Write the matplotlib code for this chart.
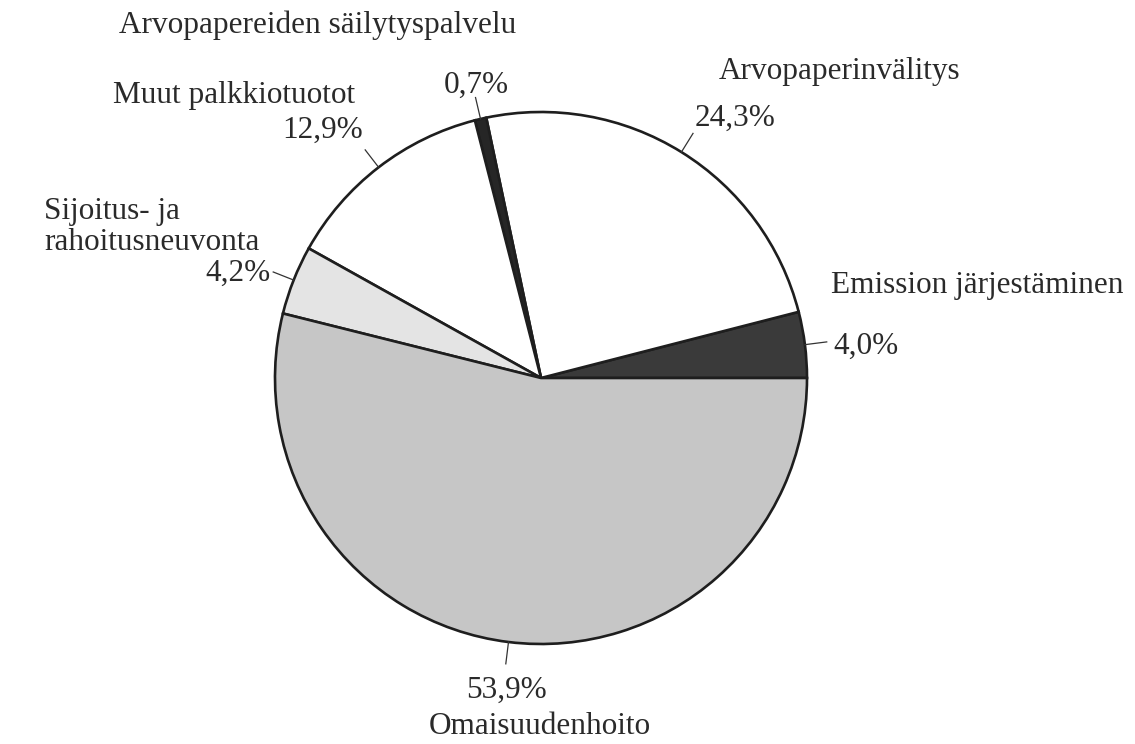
import matplotlib.pyplot as plt
import numpy as np

plt.rcParams['font.family'] = ['Liberation Serif', 'DejaVu Serif']

# Shares of fee income (%), drawn counterclockwise from 3 o'clock
categories = ['Emission järjestäminen', 'Arvopaperinvälitys',
              'Arvopapereiden säilytyspalvelu', 'Muut palkkiotuotot',
              'Sijoitus- ja rahoitusneuvonta', 'Omaisuudenhoito']
shares = [4.0, 24.3, 0.7, 12.9, 4.2, 53.9]
pct_labels = ['4,0%', '24,3%', '0,7%', '12,9%', '4,2%', '53,9%']
colors = ['#3a3a3a', '#ffffff', '#262626', '#ffffff', '#e4e4e4', '#c6c6c6']

W, H = 1135, 744
fig = plt.figure(figsize=(W / 100, H / 100), dpi=100)
ax = fig.add_axes([0, 0, 1, 1])

cx, cy, r = 541, H - 378, 266
wedges, _ = ax.pie(shares, colors=colors, startangle=0, counterclock=True,
                   center=(cx, cy), radius=r, frame=True,
                   wedgeprops=dict(edgecolor='#1e1e1e', linewidth=1.9))
ax.set_xlim(0, W)
ax.set_ylim(0, H)
ax.set_aspect('equal')
ax.axis('off')

# short radial leader lines at each wedge's mid angle
for w in wedges:
    a = np.deg2rad((w.theta1 + w.theta2) / 2)
    ax.plot([cx + r * np.cos(a), cx + (r + 22) * np.cos(a)],
            [cy + r * np.sin(a), cy + (r + 22) * np.sin(a)],
            color='#333333', lw=0.9)

fs = 22.5
# (x, y from top, text, ha)
texts = [
    (318, 25, categories[2], 'center'),
    (234, 96, categories[3], 'center'),
    (323, 130, pct_labels[3], 'center'),
    (476, 85, pct_labels[2], 'center'),
    (840, 72, categories[1], 'center'),
    (735, 118, pct_labels[1], 'center'),
    (44, 211, 'Sijoitus- ja', 'left'),
    (44, 243, 'rahoitusneuvonta', 'left'),
    (238, 273, pct_labels[4], 'center'),
    (977, 286, categories[0], 'center'),
    (866, 346, pct_labels[0], 'center'),
    (507, 690, pct_labels[5], 'center'),
    (540, 727, categories[5], 'center'),
]
for x, y, s, ha in texts:
    ax.text(x, H - y, s, ha=ha, va='center', fontsize=fs, color='#2a2a2a')

fig.savefig('out.png', dpi=100, facecolor='white')
